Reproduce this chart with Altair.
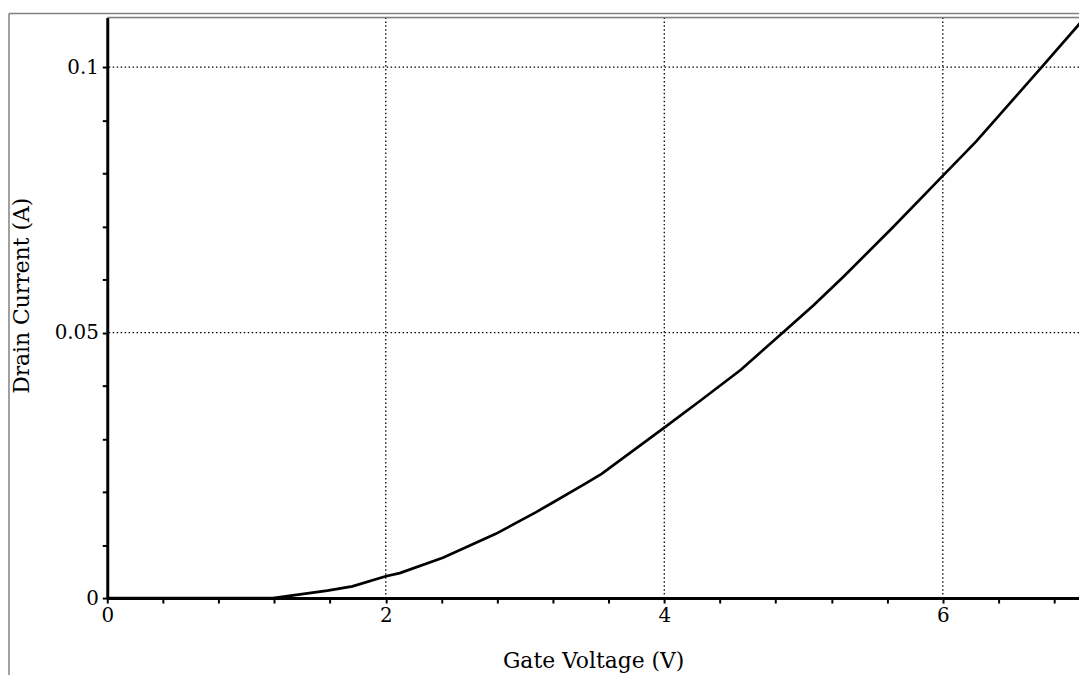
import altair as alt
import pandas as pd

# Curve (Gate Voltage in V, Drain Current in A)
gate_voltage = [0.0, 1.19, 1.58, 1.76, 2.0, 2.10, 2.41, 2.79, 3.08, 3.20, 3.43,
                3.55, 4.0, 4.27, 4.55, 4.86, 5.07, 5.29, 5.64, 6.01, 6.24, 6.71, 6.99]
drain_current = [0.0, 0.0, 0.0014, 0.0022, 0.0041, 0.0047, 0.0076, 0.0121, 0.0162,
                 0.0180, 0.0215, 0.0234, 0.0321, 0.0374, 0.0430, 0.0502, 0.0551,
                 0.0606, 0.0698, 0.0798, 0.0860, 0.1000, 0.1084]

x_ticks = [0, 0.4, 0.8, 1.2, 1.6, 2, 2.4, 2.8, 3.2, 3.6, 4, 4.4, 4.8, 5.2, 5.6,
           6, 6.4, 6.8]
y_ticks = [0, 0.01, 0.02, 0.03, 0.04, 0.05, 0.06, 0.07, 0.08, 0.09, 0.1]
x_grid = [2, 4, 6]
y_grid = [0.05, 0.1]
x_domain = [0, 6.978]
y_domain = [0, 0.10935]

FONT = "DejaVu Serif"
W, H = 979, 585

curve = pd.DataFrame({"v": gate_voltage, "i": drain_current})
xg = pd.DataFrame({"v": x_grid})
yg = pd.DataFrame({"i": y_grid})
one = pd.DataFrame({"a": [0]})

xs = alt.Scale(domain=x_domain, nice=False, zero=False)
ys = alt.Scale(domain=y_domain, nice=False, zero=False)

x_axis = alt.Axis(
    title="Gate Voltage (V)", values=x_ticks,
    labelExpr="datum.value == 0 || datum.value == 2 || datum.value == 4 || datum.value == 6 ? format(datum.value, 'd') : ''",
    grid=False, domainColor="black", domainWidth=3,
    tickColor="black", tickWidth=2, tickSize=5,
    labelFont=FONT, labelFontSize=20, labelColor="black", labelPadding=3,
    titleFont=FONT, titleFontSize=22, titleFontWeight="normal",
    titleColor="black", titlePadding=25, labelFlush=False, labelOverlap=False,
)
y_axis = alt.Axis(
    title="Drain Current (A)", values=y_ticks,
    labelExpr="datum.value == 0 ? '0' : datum.value == 0.05 ? '0.05' : datum.value == 0.1 ? '0.1' : ''",
    grid=False, domainColor="black", domainWidth=3,
    tickColor="black", tickWidth=2, tickSize=5,
    labelFont=FONT, labelFontSize=20, labelColor="black", labelPadding=4,
    titleFont=FONT, titleFontSize=22, titleFontWeight="normal",
    titleColor="black", titlePadding=21, titleY=280,
    labelFlush=False, labelOverlap=False,
)

grid_style = dict(color="black", strokeWidth=1.3, strokeDash=[1.5, 2.5])

vgrid = alt.Chart(xg).mark_rule(**grid_style).encode(
    x=alt.X("v:Q", scale=xs, axis=x_axis)
)
hgrid = alt.Chart(yg).mark_rule(**grid_style).encode(
    y=alt.Y("i:Q", scale=ys, axis=y_axis)
)

line = alt.Chart(curve).mark_line(color="black", strokeWidth=2.7).encode(
    x=alt.X("v:Q", scale=xs, axis=x_axis),
    y=alt.Y("i:Q", scale=ys, axis=y_axis),
)

frame_color = "#808080"
top_border = alt.Chart(one).mark_rule(color=frame_color, strokeWidth=1.5, clip=False).encode(
    x=alt.value(0), x2=alt.value(W + 5), y=alt.value(0)
)
outer_left = alt.Chart(one).mark_rule(color=frame_color, strokeWidth=1.5, clip=False).encode(
    x=alt.value(-99), y=alt.value(-4), y2=alt.value(H + 90)
)
outer_top = alt.Chart(one).mark_rule(color=frame_color, strokeWidth=1.5, clip=False).encode(
    x=alt.value(-99), x2=alt.value(W + 5), y=alt.value(-4)
)

chart = alt.layer(vgrid, hgrid, line, outer_left, outer_top, top_border).properties(
    width=W, height=H,
    autosize=alt.AutoSizeParams(type="none"),
    padding={"left": 100, "top": 7, "right": 0, "bottom": 75},
).configure_view(strokeWidth=0).configure(background="white")

chart.save("out.html", embed_options={"renderer": "svg", "actions": False})
